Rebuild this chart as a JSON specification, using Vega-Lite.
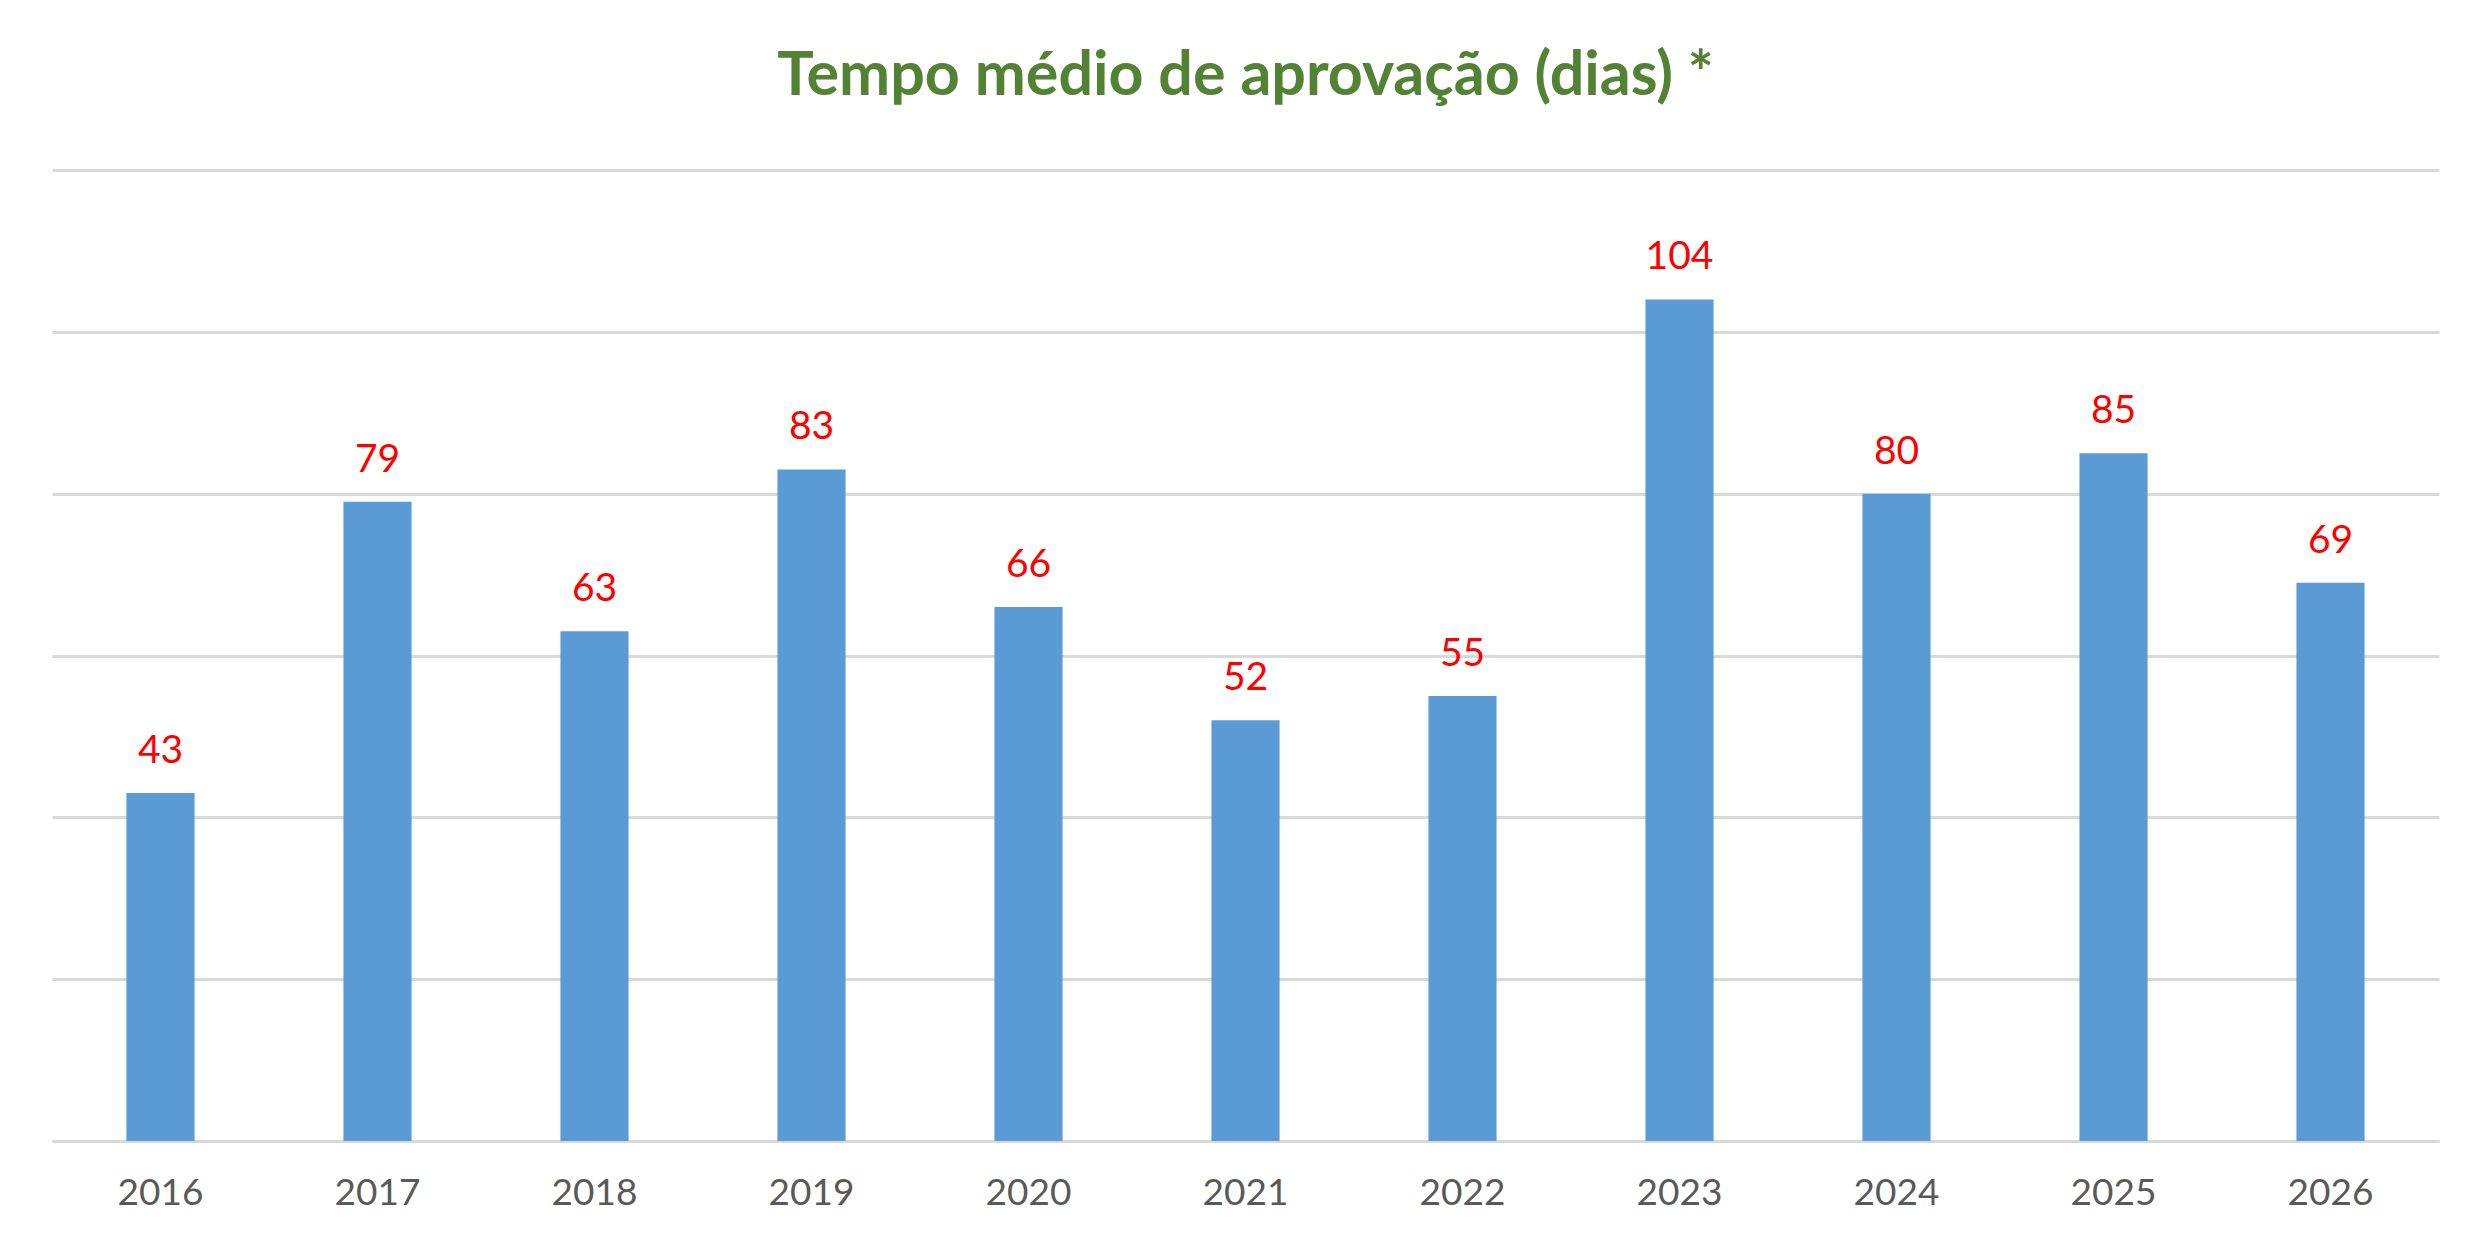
{
  "$schema": "https://vega.github.io/schema/vega-lite/v6.json",
  "width": 2387,
  "height": 971,
  "autosize": "none",
  "padding": {"left": 52, "top": 170, "right": 52, "bottom": 108},
  "background": "white",
  "title": {
    "text": "Tempo médio de aprovação (dias) *",
    "font": "Lato",
    "fontSize": 61,
    "fontWeight": "bold",
    "color": "#548235",
    "anchor": "middle",
    "offset": 62
  },
  "data": {
    "values": [
      {"ano": "2016", "dias": 43},
      {"ano": "2017", "dias": 79},
      {"ano": "2018", "dias": 63},
      {"ano": "2019", "dias": 83},
      {"ano": "2020", "dias": 66},
      {"ano": "2021", "dias": 52},
      {"ano": "2022", "dias": 55},
      {"ano": "2023", "dias": 104},
      {"ano": "2024", "dias": 80},
      {"ano": "2025", "dias": 85},
      {"ano": "2026", "dias": 69}
    ]
  },
  "encoding": {
    "x": {
      "field": "ano",
      "type": "ordinal",
      "title": null,
      "scale": {"paddingInner": 0.686, "paddingOuter": 0.343},
      "axis": {
        "labelAngle": 0,
        "ticks": false,
        "labelFont": "Lato",
        "labelFontSize": 37,
        "labelColor": "#595959",
        "labelPadding": 34,
        "domainColor": "#d9d9d9",
        "domainWidth": 3
      }
    },
    "y": {
      "field": "dias",
      "type": "quantitative",
      "title": null,
      "scale": {"domain": [0, 120]},
      "axis": {
        "values": [0, 20, 40, 60, 80, 100, 120],
        "labels": false,
        "ticks": false,
        "domain": false,
        "gridColor": "#d9d9d9",
        "gridWidth": 3
      }
    }
  },
  "layer": [
    {
      "mark": {"type": "bar", "color": "#5b9bd5"}
    },
    {
      "mark": {
        "type": "text",
        "font": "Lato",
        "fontSize": 39,
        "color": "#ff0000",
        "baseline": "middle",
        "dy": -42
      },
      "encoding": {
        "text": {"field": "dias", "type": "quantitative"}
      }
    }
  ],
  "config": {"view": {"stroke": null}}
}
